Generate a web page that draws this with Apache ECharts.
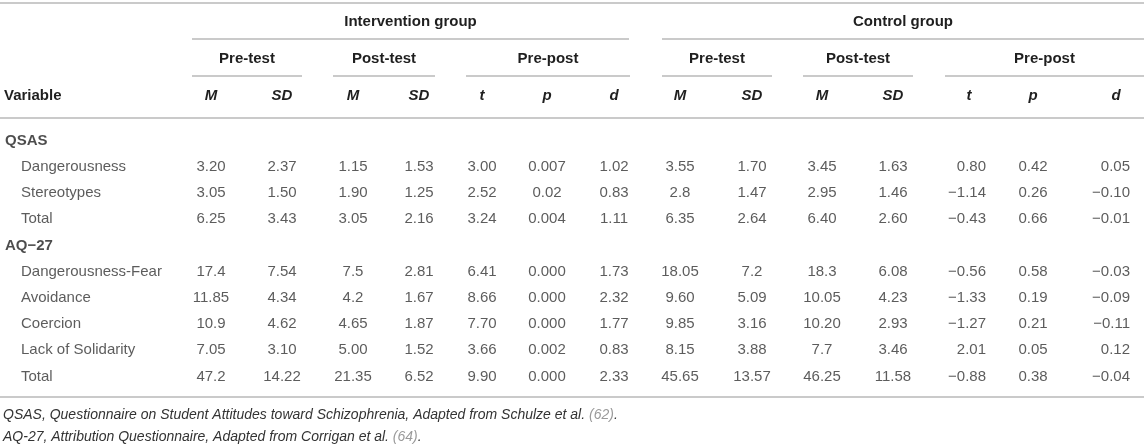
<!DOCTYPE html>
<html>
<head>
<meta charset="utf-8">
<script src="https://cdn.jsdelivr.net/npm/echarts@6/dist/echarts.min.js"></script>
<style>
  html, body { margin: 0; padding: 0; background: #fff; }
  #chart { width: 1144px; height: 447px; }
</style>
</head>
<body>
<div id="chart"></div>
<script>
// ---------- DATA ----------
const rowLabels = ['QSAS', 'Dangerousness', 'Stereotypes', 'Total', 'AQ\u221227',
  'Dangerousness-Fear', 'Avoidance', 'Coercion', 'Lack of Solidarity', 'Total'];
const sectionRows = [0, 4];

const groupTitles = ['Intervention group', 'Control group'];
const subTitles = ['Pre-test', 'Post-test', 'Pre-post', 'Pre-test', 'Post-test', 'Pre-post'];
const colHeaders = ['M', 'SD', 'M', 'SD', 't', 'p', 'd', 'M', 'SD', 'M', 'SD', 't', 'p', 'd'];

// values per column (null for section-heading rows)
const intPreM   = [null, '3.20', '3.05', '6.25', null, '17.4', '11.85', '10.9', '7.05', '47.2'];
const intPreSD  = [null, '2.37', '1.50', '3.43', null, '7.54', '4.34', '4.62', '3.10', '14.22'];
const intPostM  = [null, '1.15', '1.90', '3.05', null, '7.5', '4.2', '4.65', '5.00', '21.35'];
const intPostSD = [null, '1.53', '1.25', '2.16', null, '2.81', '1.67', '1.87', '1.52', '6.52'];
const intT      = [null, '3.00', '2.52', '3.24', null, '6.41', '8.66', '7.70', '3.66', '9.90'];
const intP      = [null, '0.007', '0.02', '0.004', null, '0.000', '0.000', '0.000', '0.002', '0.000'];
const intD      = [null, '1.02', '0.83', '1.11', null, '1.73', '2.32', '1.77', '0.83', '2.33'];
const ctlPreM   = [null, '3.55', '2.8', '6.35', null, '18.05', '9.60', '9.85', '8.15', '45.65'];
const ctlPreSD  = [null, '1.70', '1.47', '2.64', null, '7.2', '5.09', '3.16', '3.88', '13.57'];
const ctlPostM  = [null, '3.45', '2.95', '6.40', null, '18.3', '10.05', '10.20', '7.7', '46.25'];
const ctlPostSD = [null, '1.63', '1.46', '2.60', null, '6.08', '4.23', '2.93', '3.46', '11.58'];
const ctlT      = [null, '0.80', '\u22121.14', '\u22120.43', null, '\u22120.56', '\u22121.33', '\u22121.27', '2.01', '\u22120.88'];
const ctlP      = [null, '0.42', '0.26', '0.66', null, '0.58', '0.19', '0.21', '0.05', '0.38'];
const ctlD      = [null, '0.05', '\u22120.10', '\u22120.01', null, '\u22120.03', '\u22120.09', '\u22120.11', '0.12', '\u22120.04'];

const footnotes = [
  ['QSAS, Questionnaire on Student Attitudes toward Schizophrenia, Adapted from Schulze et al. ', '(62)', '.'],
  ['AQ-27, Attribution Questionnaire, Adapted from Corrigan et al. ', '(64)', '.']
];

// ---------- LAYOUT ----------
const W = 1144, H = 447;
const columns = [intPreM, intPreSD, intPostM, intPostSD, intT, intP, intD,
                 ctlPreM, ctlPreSD, ctlPostM, ctlPostSD, ctlT, ctlP, ctlD];
const colX     = [211, 282, 353, 419, 482, 547, 614, 680, 752, 822, 893, 987, 1033, 1131];
const colAlign = ['c','c','c','c','c','c','c','c','c','c','c','r','c','r'];
const headX    = [211, 282, 353, 419, 482, 547, 614, 680, 752, 822, 893, 969, 1033, 1116];
const groupSpans = [[192, 629], [662, 1144]];
const subSpans = [[192, 302], [333, 435], [466, 630], [662, 772], [803, 913], [945, 1144]];
const yGroup = 22, yGroupLine = 39, ySub = 59, ySubLine = 76, yHead = 96;
const rules = [3, 118, 397];
const bodyTop = 127.6, bodyBand = 26.2;

const FONT = '"Liberation Sans", Arial, Helvetica, sans-serif';
const TXT = '#333333';
const HEAD = '#1f1f1f';
const RULE = '#b8b8b8';

const chart = echarts.init(document.getElementById('chart'), null, { renderer: 'canvas' });

const hiddenSymbol = { symbolSize: 2, itemStyle: { color: 'rgba(255,255,255,0)' } };
const series = [];
// row labels
series.push(Object.assign({
  type: 'scatter', silent: true,
  data: rowLabels.map((name, i) => ({
    value: [sectionRows.includes(i) ? 4 : 20, i],
    label: {
      show: true, position: 'right', distance: 0, formatter: name,
      fontFamily: FONT, fontSize: 15,
      fontWeight: sectionRows.includes(i) ? 'bold' : 'normal',
      color: sectionRows.includes(i) ? HEAD : TXT
    }
  }))
}, hiddenSymbol));
// data columns
columns.forEach((col, c) => {
  series.push(Object.assign({
    type: 'scatter', silent: true,
    data: col.map((v, i) => v === null ? null : ({ value: [colX[c], i], text: v }))
              .filter(d => d !== null),
    label: {
      show: true,
      position: colAlign[c] === 'r' ? 'left' : 'inside',
      distance: 0,
      formatter: p => p.data.text,
      fontFamily: FONT, fontSize: 15, color: TXT
    }
  }, hiddenSymbol));
});

// header graphics
const graphics = [];
rules.forEach(y => graphics.push({
  type: 'line', silent: true, shape: { x1: 0, y1: y, x2: W, y2: y },
  style: { stroke: RULE, lineWidth: 1.5 }
}));
groupSpans.forEach((s, i) => {
  graphics.push({ type: 'line', silent: true, shape: { x1: s[0], y1: yGroupLine, x2: s[1], y2: yGroupLine },
    style: { stroke: RULE, lineWidth: 1.5 } });
  graphics.push({ type: 'text', silent: true, x: (s[0] + s[1]) / 2, y: yGroup,
    style: { text: groupTitles[i], font: 'bold 15px ' + FONT, fill: HEAD, align: 'center', verticalAlign: 'middle' } });
});
subSpans.forEach((s, i) => {
  graphics.push({ type: 'line', silent: true, shape: { x1: s[0], y1: ySubLine, x2: s[1], y2: ySubLine },
    style: { stroke: RULE, lineWidth: 1.5 } });
  graphics.push({ type: 'text', silent: true, x: (s[0] + s[1]) / 2, y: ySub,
    style: { text: subTitles[i], font: 'bold 15px ' + FONT, fill: HEAD, align: 'center', verticalAlign: 'middle' } });
});
graphics.push({ type: 'text', silent: true, x: 4, y: yHead,
  style: { text: 'Variable', font: 'bold 15px ' + FONT, fill: HEAD, align: 'left', verticalAlign: 'middle' } });
colHeaders.forEach((h, i) => graphics.push({ type: 'text', silent: true, x: headX[i], y: yHead,
  style: { text: h, font: 'italic bold 15px ' + FONT, fill: HEAD, align: 'center', verticalAlign: 'middle' } }));
// footnotes
const fnY = [415, 437];
footnotes.forEach((f, i) => {
  graphics.push({ type: 'text', silent: true, x: 3, y: fnY[i],
    style: {
      text: '{a|' + f[0] + '}{b|' + f[1] + '}{a|' + f[2] + '}',
      verticalAlign: 'middle', align: 'left',
      rich: {
        a: { fontFamily: FONT, fontStyle: 'italic', fontSize: 14, fill: TXT },
        b: { fontFamily: FONT, fontStyle: 'italic', fontSize: 14, fill: '#9a9a9a' }
      }
    } });
});

chart.setOption({
  animation: false,
  backgroundColor: '#ffffff',
  grid: { left: 0, right: 0, top: bodyTop, height: bodyBand * rowLabels.length },
  xAxis: { type: 'value', min: 0, max: W, show: false },
  yAxis: { type: 'category', inverse: true, show: false, data: rowLabels.map((_, i) => String(i)) },
  series: series,
  graphic: graphics
});
</script>
</body>
</html>
